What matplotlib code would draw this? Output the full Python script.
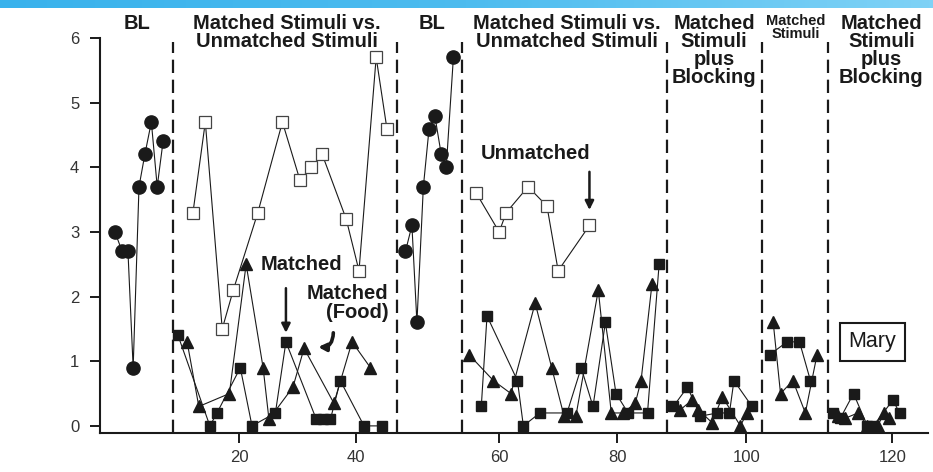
import numpy as np
import matplotlib
matplotlib.use("Agg")
import matplotlib.pyplot as plt
from matplotlib.colors import LinearSegmentedColormap

plt.rcParams['font.family'] = ['Liberation Sans', 'DejaVu Sans']

# ---------------- data (session, responses per minute) ----------------
bl1_x = [0.9, 2.0, 2.9, 3.7, 4.6, 5.5, 6.5, 7.4, 8.3]
bl1_y = [3.0, 2.7, 2.7, 0.9, 3.7, 4.2, 4.7, 3.7, 4.4]

unm1_x = [12.9, 14.8, 17.4, 19.1, 23.2, 27.4, 30.4, 32.3, 34.2, 38.3, 40.4, 42.8, 44.3]
unm1_y = [3.3, 4.7, 1.5, 2.1, 3.3, 4.7, 3.8, 4.0, 4.2, 3.2, 2.4, 5.7, 4.6]

mat1_x = [10.6, 15.5, 16.6, 20.2, 22.2, 26.2, 28.0, 33.2, 34.4, 35.6, 37.3, 41.1, 43.6]
mat1_y = [1.4, 0.0, 0.2, 0.9, 0.0, 0.2, 1.3, 0.1, 0.1, 0.1, 0.7, 0.0, 0.0]

food1_x = [12.0, 13.8, 18.5, 21.2, 24.1, 25.1, 29.2, 31.1, 36.2, 39.3, 42.0]
food1_y = [1.3, 0.3, 0.5, 2.5, 0.9, 0.1, 0.6, 1.2, 0.35, 1.3, 0.9]

bl2_x = [46.9, 47.8, 48.5, 49.4, 50.2, 51.0, 51.9, 52.6, 53.6]
bl2_y = [2.7, 3.1, 1.6, 3.7, 4.6, 4.8, 4.2, 4.0, 5.7]

unm2_x = [56.8, 60.0, 61.2, 64.9, 68.1, 70.0, 75.3]
unm2_y = [3.6, 3.0, 3.3, 3.7, 3.4, 2.4, 3.1]

mat2_x = [57.5, 58.3, 63.1, 64.1, 66.9, 71.5, 73.9, 75.9, 78.0, 79.8, 81.7, 84.7, 86.5]
mat2_y = [0.3, 1.7, 0.7, 0.0, 0.2, 0.2, 0.9, 0.3, 1.6, 0.5, 0.2, 0.2, 2.5]

food2_x = [55.8, 59.2, 62.0, 66.1, 68.9, 71.0, 73.0, 76.8, 79.0, 80.9, 82.8, 83.7, 85.4]
food2_y = [1.1, 0.7, 0.5, 1.9, 0.9, 0.15, 0.15, 2.1, 0.2, 0.2, 0.35, 0.7, 2.2]

mat3_x = [88.7, 90.9, 92.9, 95.5, 97.4, 98.1, 100.8]
mat3_y = [0.3, 0.6, 0.15, 0.2, 0.2, 0.7, 0.3]
food3_x = [89.8, 91.6, 92.6, 94.7, 96.3, 99.1, 100.1]
food3_y = [0.25, 0.4, 0.25, 0.05, 0.45, 0.0, 0.2]

mat4_x = [103.2, 105.6, 107.3, 108.8]
mat4_y = [1.1, 1.3, 1.3, 0.7]
food4_x = [103.7, 104.7, 106.4, 108.1, 109.7]
food4_y = [1.6, 0.5, 0.7, 0.2, 1.1]

mat5_x = [111.9, 112.9, 114.7, 116.6, 117.4, 120.1, 121.0]
mat5_y = [0.2, 0.12, 0.5, 0.0, 0.0, 0.4, 0.2]
food5_x = [112.6, 113.6, 115.3, 116.6, 118.0, 118.9, 119.6]
food5_y = [0.15, 0.12, 0.2, 0.0, 0.0, 0.2, 0.12]

phase_bounds = [9.85, 45.7, 54.8, 87.75, 102.2, 111.2]
phase_labels = ["BL", "Matched Stimuli vs.\nUnmatched Stimuli", "BL",
                "Matched Stimuli vs.\nUnmatched Stimuli",
                "Matched\nStimuli\nplus\nBlocking", "Matched\nStimuli",
                "Matched\nStimuli\nplus\nBlocking"]
phase_label_x = [4.3, 28.2, 50.6, 71.5, 95.0, 106.8, 118.5]
phase_label_size = [14.5, 14.5, 14.5, 14.5, 14.5, 10.5, 14.5]

x_ticks = [20, 40, 60, 80, 100, 120]
y_ticks = [0, 1, 2, 3, 4, 5, 6]

# ---------------- figure ----------------
W, H = 933, 472
fig = plt.figure(figsize=(W / 100, H / 100), dpi=100)
fig.patch.set_facecolor('white')

# blue banner strip along the top edge
band = fig.add_axes([0, 1 - 8 / H, 1, 8 / H])
grad = np.linspace(0, 1, 256)[None, :]
band_cmap = LinearSegmentedColormap.from_list('band', ['#39b2ec', '#4dbcef', '#7fd2f6'])
band.imshow(grad, aspect='auto', cmap=band_cmap, extent=[0, 1, 0, 1])
band.set_axis_off()

ax = fig.add_axes([100 / W, 1 - 433 / H, 828 / W, 395 / H])

# the printed session axis is not evenly spaced between its labels
knot_sessions = [-20, 0, 20, 40, 60, 80, 100, 120, 140]
knot_pos = [-21, 109, 239, 356, 499, 617, 746, 892, 1038]


def fwd(s):
    return np.interp(s, knot_sessions, knot_pos)


def inv(p):
    return np.interp(p, knot_pos, knot_sessions)


ax.set_xscale('function', functions=(fwd, inv))
ax.set_xlim(-1.4, 124.9)
ax.set_ylim(-0.11, 6.0)

ink = '#1a1a1a'
line_kw = dict(color=ink, lw=0.8, zorder=3)

# phase change lines
ax.vlines(phase_bounds, -0.11, 5.94, colors=ink, linestyles=(0, (6, 3)), lw=1.6, zorder=1)

# baseline
for xs, ys in [(bl1_x, bl1_y), (bl2_x, bl2_y)]:
    ax.plot(xs, ys, marker='o', ms=9.5, mfc=ink, mec=ink, **line_kw)

# unmatched stimuli
for xs, ys in [(unm1_x, unm1_y), (unm2_x, unm2_y)]:
    ax.plot(xs, ys, marker='s', ms=8, mfc='white', mec='#444444', mew=0.9, **line_kw)

# matched stimuli
for xs, ys in [(mat1_x, mat1_y), (mat2_x, mat2_y), (mat3_x, mat3_y),
               (mat4_x, mat4_y), (mat5_x, mat5_y)]:
    ax.plot(xs, ys, marker='s', ms=7.5, mfc=ink, mec=ink, **line_kw)

# matched stimuli (food)
for xs, ys in [(food1_x, food1_y), (food2_x, food2_y), (food3_x, food3_y),
               (food4_x, food4_y), (food5_x, food5_y)]:
    ax.plot(xs, ys, marker='^', ms=9, mfc=ink, mec=ink, **line_kw)

# phase titles
for lab, xp, fs in zip(phase_labels, phase_label_x, phase_label_size):
    ax.text(xp, 1.062, lab, transform=ax.get_xaxis_transform(), ha='center', va='top',
            fontsize=fs, fontweight='bold', color=ink, linespacing=0.95, clip_on=False)

# annotations
arrow_kw = dict(arrowstyle='-|>', color=ink, lw=1.8, mutation_scale=13, shrinkA=0, shrinkB=0)
ax.text(30.6, 2.49, "Matched", ha='center', va='center', fontsize=14.5,
        fontweight='bold', color=ink)
ax.annotate('', xy=(28.0, 1.44), xytext=(28.0, 2.13), arrowprops=arrow_kw)

ax.text(44.5, 1.9, "Matched\n(Food)", ha='right', va='center', fontsize=14.5,
        fontweight='bold', color=ink, linespacing=0.95, multialignment='right')
ax.annotate('', xy=(33.5, 1.22), xytext=(36.1, 1.44),
            arrowprops=dict(arrowstyle='-|>', color=ink, lw=2.6, mutation_scale=11,
                            shrinkA=0, shrinkB=0, connectionstyle='arc3,rad=-0.5'))

ax.text(66.1, 4.22, "Unmatched", ha='center', va='center', fontsize=14.5,
        fontweight='bold', color=ink)
ax.annotate('', xy=(75.3, 3.34), xytext=(75.3, 3.93), arrowprops=arrow_kw)

ax.text(117.3, 1.3, "Mary", ha='center', va='center', fontsize=15.5, color=ink,
        bbox=dict(boxstyle='square,pad=0.4', fc='white', ec=ink, lw=1.5), zorder=5)

# axes styling
for side in ['top', 'right']:
    ax.spines[side].set_visible(False)
for side in ['left', 'bottom']:
    ax.spines[side].set_linewidth(1.5)
    ax.spines[side].set_color(ink)

ax.set_xticks(x_ticks)
ax.set_xticklabels([str(t) for t in x_ticks])
ax.set_yticks(y_ticks)
ax.set_yticklabels([str(t) for t in y_ticks])
ax.tick_params(axis='both', direction='out', length=7, width=1.4, color=ink,
               labelsize=12, labelcolor='#333333')
ax.tick_params(axis='y', pad=8)
ax.tick_params(axis='x', pad=5)
ax.minorticks_off()

fig.savefig('out.png', dpi=100)
